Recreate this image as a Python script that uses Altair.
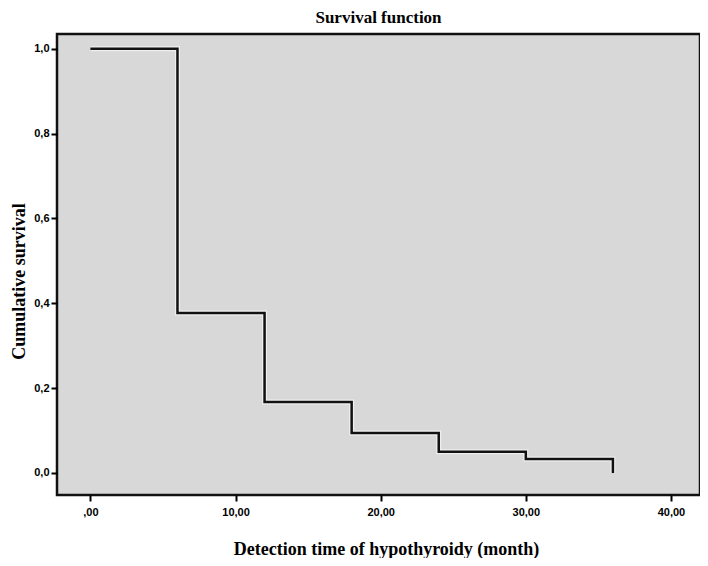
import altair as alt
import pandas as pd

# Data
months = [0, 6, 12, 18, 24, 30, 36]
survival = [1.0, 0.377, 0.167, 0.094, 0.050, 0.033, 0.0]

df = pd.DataFrame({"t": months, "s": survival})

x_scale = alt.Scale(domain=[-2.3, 42.0], nice=False, zero=False)
y_scale = alt.Scale(domain=[-0.052, 1.035], nice=False, zero=False)

x_axis = alt.Axis(
    title="Detection time of hypothyroidy (month)",
    values=[0, 10, 20, 30, 40],
    labelExpr="datum.value == 0 ? ',00' : replace(format(datum.value, '.2f'), '.', ',')",
    grid=False, domain=False,
    tickColor="black", tickWidth=2, tickSize=6,
    labelFont="Liberation Sans", labelFontWeight="bold", labelFontSize=11,
    labelColor="black", labelPadding=5,
    titleFont="Liberation Serif", titleFontWeight="bold", titleFontSize=18,
    titleColor="black", titleX=329, titleY=54, titleBaseline="middle",
)
y_axis = alt.Axis(
    title="Cumulative survival",
    values=[0, 0.2, 0.4, 0.6, 0.8, 1.0],
    labelExpr="replace(format(datum.value, '.1f'), '.', ',')",
    grid=False, domain=False,
    tickColor="black", tickWidth=2, tickSize=6,
    labelFont="Liberation Sans", labelFontWeight="bold", labelFontSize=11,
    labelColor="black", labelPadding=2,
    titleFont="Liberation Serif", titleFontWeight="bold", titleFontSize=18,
    titleColor="black", titleX=-33, titleY=247, titleBaseline="alphabetic",
    titleAlign="center", titleAngle=270,
)

base = alt.Chart(df).encode(
    x=alt.X("t:Q", scale=x_scale, axis=x_axis),
    y=alt.Y("s:Q", scale=y_scale, axis=y_axis),
)

halo = base.mark_line(interpolate="step-after", color="white", strokeWidth=5, opacity=0.6)
line = base.mark_line(interpolate="step-after", color="#111111", strokeWidth=2.5)

chart = (halo + line).properties(
    width=643,
    height=461,
    background="white",
    autosize=alt.AutoSizeParams(type="none"),
    padding={"left": 49, "top": 26, "right": 0, "bottom": 63},
    title=alt.TitleParams(
        "Survival function",
        font="Liberation Serif", fontWeight="bold", fontSize=17,
        color="black", anchor="middle", offset=7,
    ),
).configure_view(
    fill="#d8d8d8", stroke="#111111", strokeWidth=2.5,
)

chart.save("out.html", embed_options={"renderer": "svg", "actions": False})
